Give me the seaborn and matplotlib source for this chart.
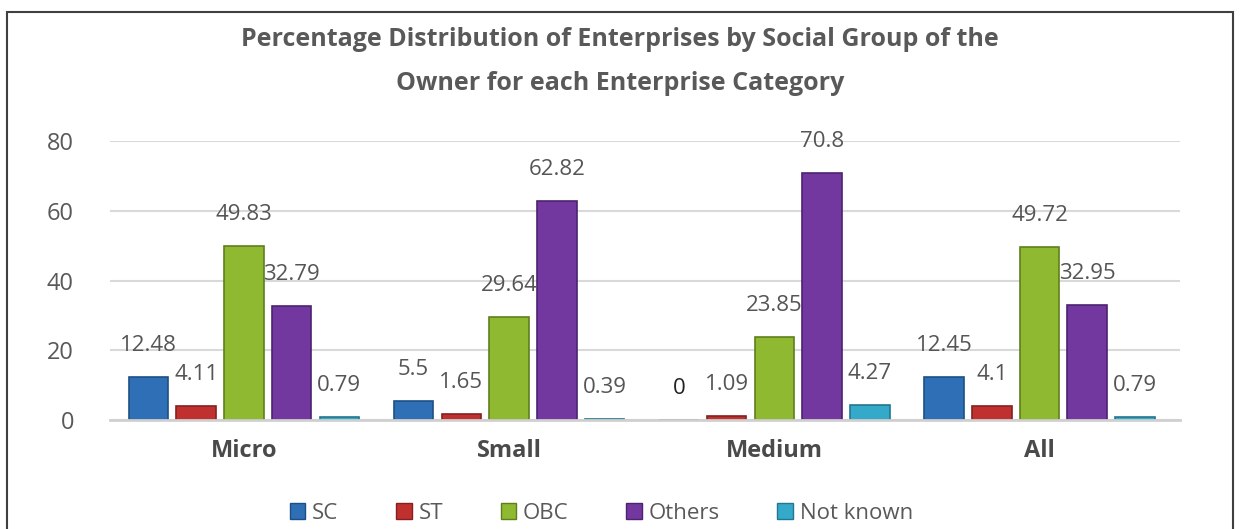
import numpy as np
import pandas as pd
import matplotlib
matplotlib.use("Agg")
import matplotlib.pyplot as plt
import seaborn as sns
from matplotlib import font_manager
from matplotlib.patches import Rectangle

categories = ["Micro", "Small", "Medium", "All"]
groups = ["SC", "ST", "OBC", "Others", "Not known"]
sc = [12.48, 5.5, 0, 12.45]
st = [4.11, 1.65, 1.09, 4.1]
obc = [49.83, 29.64, 23.85, 49.72]
others = [32.79, 62.82, 70.8, 32.95]
not_known = [0.79, 0.39, 4.27, 0.79]
colors = ["#2f6fb5", "#c0302e", "#8fb930", "#7338a0", "#35a9c9"]
edges = ["#1d4f86", "#862020", "#5f7f1c", "#4d2270", "#21778f"]

series = [sc, st, obc, others, not_known]
df = pd.DataFrame({
    "cat": categories * len(groups),
    "grp": [g for g in groups for _ in categories],
    "val": [v for s in series for v in s],
})

sns.set_theme(style="white")
names = {f.name for f in font_manager.fontManager.ttflist}
font = next((f for f in ["Liberation Sans Narrow", "Open Sans", "Lato", "DejaVu Sans"] if f in names))
plt.rcParams["font.family"] = [font, "DejaVu Sans"]

fig = plt.figure(figsize=(12.4, 5.29), dpi=100)
ax = fig.add_axes([0.0887, 0.206, 0.863, 0.5274])

sns.barplot(data=df, x="cat", y="val", hue="grp", hue_order=groups, order=categories,
            palette=colors, saturation=1, width=0.9, gap=0.17, ax=ax, legend=False)

for i, cont in enumerate(ax.containers):
    for bar, v in zip(cont, series[i]):
        bar.set_edgecolor(edges[i])
        bar.set_linewidth(1.2)
        x = bar.get_x() + bar.get_width() / 2
        ax.annotate(f"{v:g}", (x, bar.get_height()), xytext=(0, 15), textcoords="offset points",
                    ha="center", va="bottom", fontsize=16,
                    color="#222222" if v == 0 else "#555555")

ax.set_ylim(0, 80)
ax.set_xlim(-0.505, 3.53)
ax.set_yticks([0, 20, 40, 60, 80])
ax.yaxis.grid(True, color="#d9d9d9", linewidth=1.5)
ax.set_axisbelow(True)
for s in ["left", "right", "top"]:
    ax.spines[s].set_visible(False)
ax.spines["bottom"].set_color("#d0d0d0")
ax.spines["bottom"].set_linewidth(2)
ax.tick_params(axis="y", labelsize=17, labelcolor="#595959", length=0, pad=26)
ax.tick_params(axis="x", labelsize=17, labelcolor="#4a4a4a", length=0, pad=14)
for t in ax.get_xticklabels():
    t.set_fontweight("bold")
ax.set_xlabel("")
ax.set_ylabel("")

fig.text(0.5, 0.925, "Percentage Distribution of Enterprises by Social Group of the",
         ha="center", va="center", fontsize=18, fontweight="bold", color="#595959")
fig.text(0.5, 0.843, "Owner for each Enterprise Category",
         ha="center", va="center", fontsize=18, fontweight="bold", color="#595959")

handles = [Rectangle((0, 0), 1, 1, facecolor=c, edgecolor=e) for c, e in zip(colors, edges)]
fig.legend(handles, groups, loc="center", bbox_to_anchor=(0.485, 0.03), ncol=5, frameon=False,
           fontsize=16, labelcolor="#595959", handlelength=0.7, handleheight=0.7,
           handletextpad=0.3, columnspacing=2.6)

fig.patches.append(Rectangle((7 / 1240, -0.05), 1226 / 1240, 1 - 12 / 529 + 0.05,
                             transform=fig.transFigure, fill=False,
                             edgecolor="#404040", linewidth=1.5))

fig.savefig("out.png", dpi=100)
